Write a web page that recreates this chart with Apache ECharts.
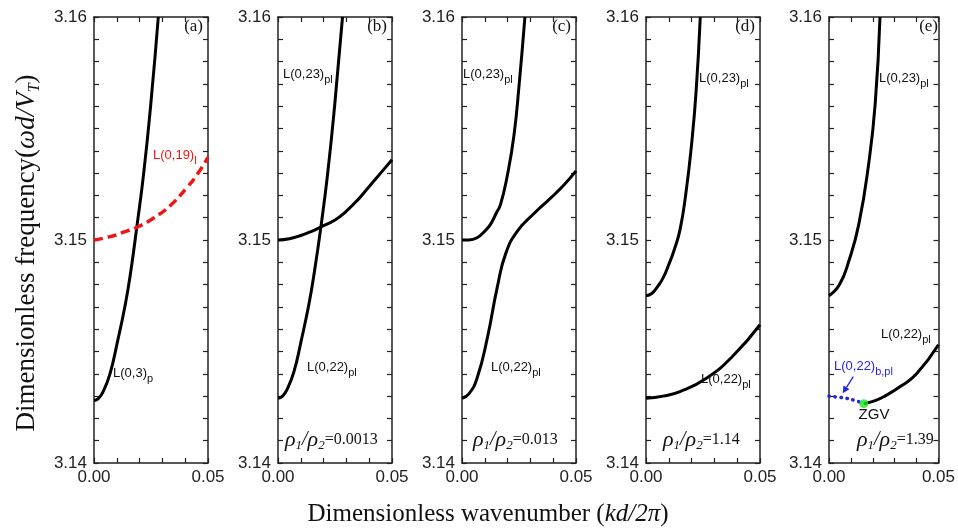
<!DOCTYPE html>
<html><head><meta charset="utf-8">
<script src="https://cdn.jsdelivr.net/npm/echarts@6/dist/echarts.min.js"></script>
<style>html,body{margin:0;padding:0;background:#fff}#c{width:958px;height:530px}</style>
</head><body><div id="c"></div>
<script>
// ---------------- data ----------------
// axis ranges / tick labels
const xRange = [0, 0.05];
const yRange = [3.14, 3.16];
const panelTags = ['(a)', '(b)', '(c)', '(d)', '(e)'];
const ratioTexts = ['', '0.0013', '0.013', '1.14', '1.39'];

// panel (a)
const a_L03_x = [0, 0.002, 0.004, 0.007, 0.010, 0.0137, 0.016, 0.0188, 0.0218, 0.025, 0.0282];
const a_L03_y = [3.1428, 3.1429, 3.1432, 3.1440, 3.1453, 3.1471, 3.1485, 3.1506, 3.1530, 3.1562, 3.1600];
const a_L019_x = [0, 0.0071, 0.0129, 0.0188, 0.0262, 0.0335, 0.0409, 0.0450, 0.0500];
const a_L019_y = [3.1500, 3.15015, 3.15035, 3.15057, 3.15099, 3.15155, 3.15237, 3.1529, 3.1537];

// panel (b)
const b_steep_x = [0, 0.002, 0.004, 0.007, 0.010, 0.0137, 0.016, 0.0187, 0.0218, 0.025, 0.0283];
const b_steep_y = [3.1429, 3.1430, 3.1433, 3.1441, 3.1454, 3.1472, 3.1486, 3.1505, 3.1530, 3.1562, 3.1600];
const b_flat_x = [0, 0.005, 0.010, 0.015, 0.0187, 0.025, 0.030, 0.035, 0.040, 0.045, 0.050];
const b_flat_y = [3.1500, 3.15006, 3.1502, 3.1504, 3.15058, 3.1509, 3.1513, 3.1518, 3.1524, 3.1530, 3.1536];

// panel (c)
const c_up_x = [0, 0.003, 0.0066, 0.0100, 0.0125, 0.0150, 0.0169, 0.0199, 0.0228, 0.0250, 0.0276];
const c_up_y = [3.1500, 3.15, 3.1501, 3.1504, 3.1507, 3.1512, 3.1516, 3.1529, 3.1547, 3.1569, 3.1600];
const c_low_x = [0, 0.003, 0.0066, 0.0111, 0.0155, 0.0192, 0.0243, 0.0317, 0.0391, 0.0450, 0.0500];
const c_low_y = [3.1429, 3.1431, 3.1438, 3.1456, 3.1479, 3.1494, 3.1504, 3.1512, 3.1519, 3.1525, 3.1531];

// panel (d)
const d_up_x = [0, 0.0025, 0.005, 0.0075, 0.010, 0.0125, 0.015, 0.0175, 0.020, 0.022, 0.0238];
const d_up_y = [3.1475, 3.1476, 3.1479, 3.1483, 3.1489, 3.1496, 3.1505, 3.1521, 3.1543, 3.1567, 3.1600];
const d_low_x = [0, 0.0075, 0.0149, 0.0265, 0.0381, 0.0500];
const d_low_y = [3.1429, 3.1430, 3.1432, 3.1438, 3.1448, 3.1462];

// panel (e)
const e_up_x = [0, 0.0048, 0.0092, 0.0136, 0.0181, 0.0211, 0.0233];
const e_up_y = [3.1475, 3.1480, 3.1491, 3.1507, 3.1534, 3.1561, 3.1600];
const e_low_x = [0.0159, 0.0211, 0.0255, 0.0329, 0.0400, 0.0500];
const e_low_y = [3.14266, 3.1428, 3.1430, 3.14345, 3.1440, 3.1453];
const e_back_x = [0, 0.004, 0.008, 0.012, 0.0159];
const e_back_y = [3.1430, 3.14295, 3.1429, 3.1428, 3.14266];
const e_zgv_x = [0.0159];
const e_zgv_y = [3.14266];

// ---------------- layout ----------------
const panelLeft = [94, 278, 462, 646, 829];
const panelW = 114, panelTop = 17, panelH = 446;
const SERIF = 'Liberation Serif', SANS = 'Liberation Sans';
const AX = '#222';

function zip(xs, ys) { return xs.map((x, i) => [x, ys[i]]); }

const grids = [], xAxes = [], yAxes = [], series = [];
panelLeft.forEach((l, i) => {
  grids.push({ left: l, top: panelTop, width: panelW, height: panelH });
  const tickCommon = { show: true, inside: true, length: 5, lineStyle: { color: AX, width: 1.2 } };
  const minorCommon = (n) => ({ show: true, splitNumber: n, length: 5, lineStyle: { color: AX, width: 1.2 } });
  const lineCommon = { show: true, onZero: false, lineStyle: { color: AX, width: 1.5 } };
  xAxes.push({ gridIndex: i, type: 'value', min: xRange[0], max: xRange[1], interval: 0.05, position: 'bottom',
    axisLine: lineCommon, axisTick: tickCommon, minorTick: minorCommon(5),
    splitLine: { show: false }, minorSplitLine: { show: false },
    axisLabel: { formatter: v => v.toFixed(2), fontSize: 17, color: AX, fontFamily: SANS, margin: 6 } });
  xAxes.push({ gridIndex: i, type: 'value', min: xRange[0], max: xRange[1], interval: 0.05, position: 'top',
    axisLine: lineCommon, axisTick: tickCommon, minorTick: minorCommon(5),
    splitLine: { show: false }, axisLabel: { show: false } });
  yAxes.push({ gridIndex: i, type: 'value', min: yRange[0], max: yRange[1], interval: 0.01, position: 'left',
    axisLine: lineCommon, axisTick: tickCommon, minorTick: minorCommon(10),
    splitLine: { show: false }, minorSplitLine: { show: false },
    axisLabel: { formatter: v => v.toFixed(2), fontSize: 17, color: AX, fontFamily: SANS, margin: 7 } });
  yAxes.push({ gridIndex: i, type: 'value', min: yRange[0], max: yRange[1], interval: 0.01, position: 'right',
    axisLine: lineCommon, axisTick: tickCommon, minorTick: minorCommon(10),
    splitLine: { show: false }, axisLabel: { show: false } });
});

function line(panel, xs, ys, extra) {
  return Object.assign({
    type: 'line', xAxisIndex: panel * 2, yAxisIndex: panel * 2, data: zip(xs, ys),
    showSymbol: false, smooth: 0.5, silent: true, animation: false,
    lineStyle: { color: '#000', width: 3 }, z: 3
  }, extra || {});
}

series.push(line(0, a_L03_x, a_L03_y));
series.push(line(0, a_L019_x, a_L019_y, { lineStyle: { color: '#f01414', width: 3.5, type: [9, 5] } }));
series.push(line(1, b_steep_x, b_steep_y));
series.push(line(1, b_flat_x, b_flat_y));
series.push(line(2, c_up_x, c_up_y));
series.push(line(2, c_low_x, c_low_y));
series.push(line(3, d_up_x, d_up_y));
series.push(line(3, d_low_x, d_low_y));
series.push(line(4, e_up_x, e_up_y));
series.push(line(4, e_low_x, e_low_y));
series.push(line(4, e_back_x, e_back_y, { lineStyle: { color: '#2424e6', width: 3.5, type: [0.5, 5.5], cap: 'round' } }));
series.push({ type: 'scatter', xAxisIndex: 8, yAxisIndex: 8, data: zip(e_zgv_x, e_zgv_y),
  symbol: 'circle', symbolSize: 9, itemStyle: { color: '#22e622' }, z: 5, silent: true, animation: false });

// ---------------- text annotations ----------------
function lab(x, y, main, sub, color, size) {
  color = color || '#111'; size = size || 13;
  return { type: 'text', x: x, y: y, z: 10, silent: true,
    style: { text: '{m|' + main + '}{s|' + sub + '}', align: 'left', verticalAlign: 'middle',
      rich: { m: { fontSize: size, fontFamily: SANS, fill: color },
              s: { fontSize: size - 2, fontFamily: SANS, fill: color, padding: [11, 0, 0, 0] } } } };
}
function ratio(x, y, val) {
  return { type: 'text', x: x, y: y, z: 10, silent: true,
    style: { text: '{r|ρ}{s|1}{l|/}{r|ρ}{s|2}{n|=' + val + '}', align: 'left', verticalAlign: 'middle',
      rich: { r: { fontSize: 22, fontFamily: SERIF, fontStyle: 'italic', fill: '#111' },
              s: { fontSize: 13, fontFamily: SERIF, fontStyle: 'italic', fill: '#111', padding: [12, 0, 0, 0] },
              l: { fontSize: 20, fontFamily: SERIF, fontStyle: 'italic', fill: '#111' },
              n: { fontSize: 16, fontFamily: SERIF, fill: '#111' } } } };
}
const graphics = [];
panelLeft.forEach((l, i) => {
  graphics.push({ type: 'text', x: l + panelW - 5, y: 27, z: 10, silent: true,
    style: { text: panelTags[i], align: 'right', verticalAlign: 'middle', font: '17px "' + SERIF + '"', fill: '#111' } });
});
graphics.push(lab(153, 155, 'L(0,19)', 'l', '#f01414'));
graphics.push(lab(113, 373, 'L(0,3)', 'p'));
graphics.push(lab(283, 74, 'L(0,23)', 'pl'));
graphics.push(lab(307, 367, 'L(0,22)', 'pl'));
graphics.push(lab(463, 74, 'L(0,23)', 'pl'));
graphics.push(lab(491, 367, 'L(0,22)', 'pl'));
graphics.push(lab(699, 78, 'L(0,23)', 'pl'));
graphics.push(lab(701, 379, 'L(0,22)', 'pl'));
graphics.push(lab(879, 78, 'L(0,23)', 'pl'));
graphics.push(lab(881, 334, 'L(0,22)', 'pl'));
graphics.push(lab(834, 366, 'L(0,22)', 'b,pl', '#2424e6'));
graphics.push({ type: 'text', x: 874, y: 415, z: 10, silent: true,
  style: { text: 'ZGV', align: 'center', verticalAlign: 'middle', font: '15px "' + SANS + '"', fill: '#111' } });
graphics.push(ratio(285, 440, ratioTexts[1]));
graphics.push(ratio(473, 440, ratioTexts[2]));
graphics.push(ratio(663, 440, ratioTexts[3]));
graphics.push(ratio(857, 440, ratioTexts[4]));
// arrow
graphics.push({ type: 'line', z: 10, silent: true, shape: { x1: 853.3, y1: 376.7, x2: 846.5, y2: 387.4 },
  style: { stroke: '#2424e6', lineWidth: 1.3 } });
graphics.push({ type: 'polygon', z: 10, silent: true, shape: { points: [[842.7, 393.3], [849.4, 389.3], [843.5, 385.5]] },
  style: { fill: '#2424e6' } });
// axis titles
graphics.push({ type: 'text', x: 488, y: 514, z: 10, silent: true,
  style: { text: '{n|Dimensionless wavenumber (}{i|kd/2π}{n|)}', align: 'center', verticalAlign: 'middle',
    rich: { n: { fontSize: 25, fontFamily: SERIF, fill: '#111' }, i: { fontSize: 25, fontFamily: SERIF, fontStyle: 'italic', fill: '#111' } } } });
graphics.push({ type: 'text', x: 27, y: 253, rotation: Math.PI / 2, z: 10, silent: true,
  style: { text: '{n|Dimensionless frequency(}{i|ωd/V}{s|T}{n|)}', align: 'center', verticalAlign: 'middle',
    rich: { n: { fontSize: 27, fontFamily: SERIF, fill: '#111' }, i: { fontSize: 27, fontFamily: SERIF, fontStyle: 'italic', fill: '#111' },
            s: { fontSize: 16, fontFamily: SERIF, fontStyle: 'italic', fill: '#111', padding: [15, 0, 0, 0] } } } });

const chart = echarts.init(document.getElementById('c'), null, { renderer: 'canvas' });
chart.setOption({ backgroundColor: '#fff', animation: false, grid: grids, xAxis: xAxes, yAxis: yAxes, series: series, graphic: graphics });
</script></body></html>
